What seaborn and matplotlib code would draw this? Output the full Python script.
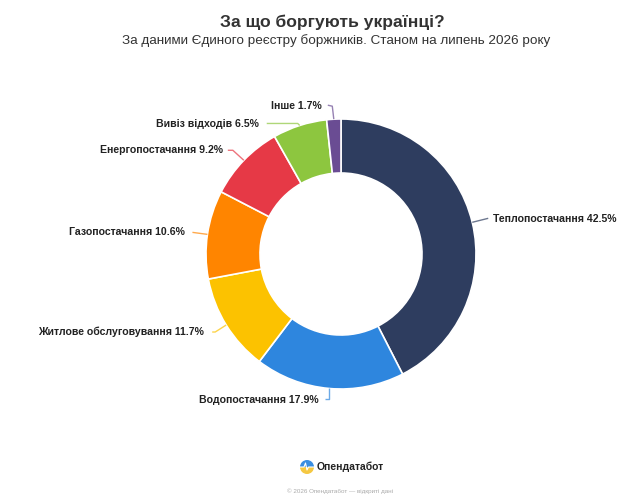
import matplotlib

matplotlib.use("Agg")
import matplotlib.pyplot as plt
import numpy as np
import seaborn as sns
from matplotlib.patches import Wedge

# data
categories = [
    "Теплопостачання",
    "Водопостачання",
    "Житлове обслуговування",
    "Газопостачання",
    "Енергопостачання",
    "Вивіз відходів",
    "Інше",
]
shares = [42.5, 17.9, 11.7, 10.6, 9.2, 6.5, 1.7]
colors = ["#2e3d5f", "#2e86de", "#fcc200", "#ff8500", "#e63946", "#8dc63f", "#6a4c93"]

title = "За що боргують українці?"
subtitle = "За даними Єдиного реєстру боржників. Станом на липень 2026 року"
brand = "Опендатабот"
footer = "© 2026 Опендатабот — відкриті дані"

# label connector layout (pixels, relative to wedge anchor, y up):
# elbow point, line end, text anchor, alignment
label_layout = [
    ((16, 4), (16, 4), (21, 3), "left"),
    ((0, -11), (-4, -11), (-11, -12), "right"),
    ((-11, -7), (-14, -7), (-22, -7), "right"),
    ((-15, 2), (-15, 2), (-23, 2), "right"),
    ((-11, 10), (-16, 10), (-21, 10), "right"),
    ((-2, 2), (-33, 2), (-41, 1), "right"),
    ((-1.5, 13), (-6, 14), (-12, 13), "right"),
]

W, H = 640, 498
CX, CY, R = 341, 244, 135

sns.set_theme(style="white")
plt.rcParams["font.family"] = ["Liberation Sans", "DejaVu Sans"]

fig = plt.figure(figsize=(W / 100, H / 100), dpi=100)
fig.patch.set_facecolor("white")
ax = fig.add_axes([0, 0, 1, 1])

wedges, _ = ax.pie(
    shares,
    colors=sns.color_palette(colors),
    startangle=90,
    counterclock=False,
    center=(CX, CY),
    radius=R,
    wedgeprops=dict(width=R * 0.4, edgecolor="white", linewidth=1.2, joinstyle="round"),
)
ax.set_xlim(0, W)
ax.set_ylim(0, H)
ax.set_aspect("equal")
ax.set_axis_off()

for w, name, val, color, (elb, end, txt, ha) in zip(
    wedges, categories, shares, colors, label_layout
):
    mid = np.deg2rad((w.theta1 + w.theta2) / 2)
    ax0 = CX + R * np.cos(mid)
    ay0 = CY + R * np.sin(mid)
    ax.plot(
        [ax0, ax0 + elb[0], ax0 + end[0]],
        [ay0, ay0 + elb[1], ay0 + end[1]],
        color=color,
        alpha=0.7,
        lw=1.0,
        solid_capstyle="butt",
    )
    ax.text(
        ax0 + txt[0],
        ay0 + txt[1],
        f"{name} {val}%",
        ha=ha,
        va="center",
        fontsize=7.6,
        fontweight="bold",
        color="#222222",
    )

fig.text(0.52, 1 - 22 / H, title, ha="center", va="center",
         fontsize=12.6, fontweight="bold", color="#333333")
fig.text(0.525, 1 - 41 / H, subtitle, ha="center", va="center",
         fontsize=9.7, color="#333333")

# brand logo
lx, ly, lr = 307, H - 467, 7
ax.add_patch(Wedge((lx, ly), lr, 0, 180, color="#3a8ee0", lw=0))
ax.add_patch(Wedge((lx, ly), lr, 180, 360, color="#f5c842", lw=0))
ax.plot([lx - lr, lx - 3, lx - 1.5, lx, lx + 1.5, lx + lr],
        [ly, ly, ly + 4, ly - 3, ly, ly], color="white", lw=0.8)
ax.text(317, ly, brand, ha="left", va="center", fontsize=7.5,
        fontweight="bold", color="#222222")
fig.text(340 / W, 1 - 491 / H, footer, ha="center", va="center",
         fontsize=4.5, color="#aaaaaa")

fig.savefig("out.png", dpi=100)
plt.close(fig)
